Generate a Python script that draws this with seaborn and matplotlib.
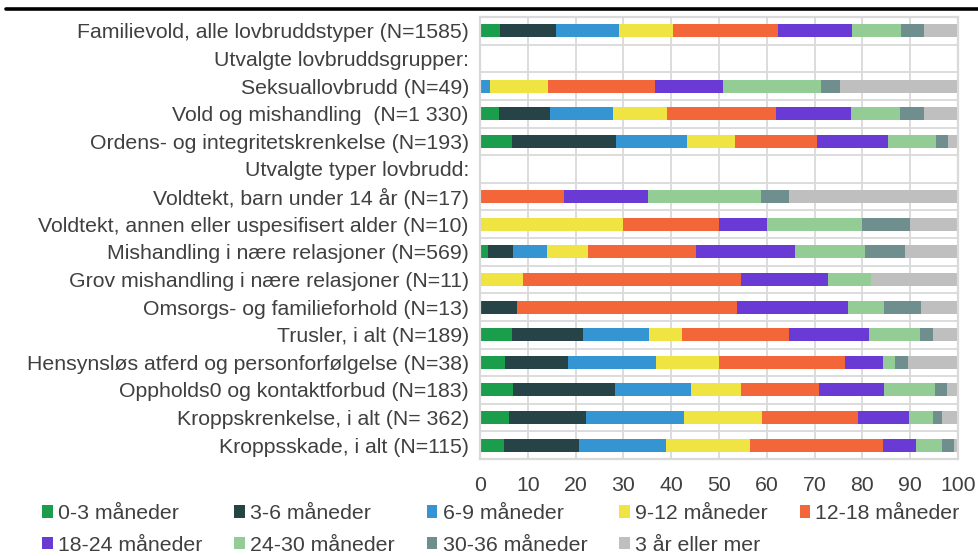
import numpy as np
import pandas as pd
import matplotlib.pyplot as plt
from matplotlib.patches import Patch
from matplotlib.lines import Line2D
import seaborn as sns

# Kategorier (rader, ovenfra og ned)
labels = [
    "Familievold, alle lovbruddstyper (N=1585)",
    "Utvalgte lovbruddsgrupper:",
    "Seksuallovbrudd (N=49)",
    "Vold og mishandling  (N=1 330)",
    "Ordens- og integritetskrenkelse (N=193)",
    "Utvalgte typer lovbrudd:",
    "Voldtekt, barn under 14 år (N=17)",
    "Voldtekt, annen eller uspesifisert alder (N=10)",
    "Mishandling i nære relasjoner (N=569)",
    "Grov mishandling i nære relasjoner (N=11)",
    "Omsorgs- og familieforhold (N=13)",
    "Trusler, i alt (N=189)",
    "Hensynsløs atferd og personforfølgelse (N=38)",
    "Oppholds0 og kontaktforbud (N=183)",
    "Kroppskrenkelse, i alt (N= 362)",
    "Kroppsskade, i alt (N=115)",
]

# Andel saker (prosent) per varighetsintervall, én liste per intervall
m0_3   = [4.1, 0, 0.0, 3.9, 6.6, 0, 0.0, 0.0, 1.6, 0.0, 0.0, 6.7, 5.3, 7.0, 6.1, 5.0]
m3_6   = [11.9, 0, 0.0, 10.8, 21.8, 0, 0.0, 0.0, 5.2, 0.0, 7.7, 14.9, 13.2, 21.3, 16.1, 15.8]
m6_9   = [13.0, 0, 2.0, 13.1, 14.9, 0, 0.0, 0.0, 7.2, 0.0, 0.0, 13.8, 18.4, 15.8, 20.5, 18.2]
m9_12  = [11.3, 0, 12.2, 11.4, 10.0, 0, 0.0, 30.0, 8.5, 9.1, 0.0, 6.8, 13.2, 10.5, 16.3, 17.5]
m12_18 = [22.1, 0, 22.4, 22.8, 17.2, 0, 17.6, 20.0, 22.7, 45.4, 46.1, 22.4, 26.3, 16.4, 20.0, 27.9]
m18_24 = [15.5, 0, 14.3, 15.7, 14.9, 0, 17.6, 10.0, 20.6, 18.2, 23.1, 16.8, 7.9, 13.6, 10.8, 6.9]
m24_30 = [10.2, 0, 20.4, 10.1, 10.0, 0, 23.5, 20.0, 14.8, 9.1, 7.7, 10.7, 2.6, 10.5, 5.0, 5.3]
m30_36 = [4.7, 0, 4.1, 5.0, 2.6, 0, 5.9, 10.0, 8.3, 0.0, 7.7, 2.6, 2.6, 2.7, 1.9, 2.5]
y3plus = [7.2, 0, 24.6, 7.2, 2.0, 0, 35.4, 10.0, 11.1, 18.2, 7.7, 5.3, 10.5, 2.2, 3.3, 0.9]

series_names = ["0-3 måneder", "3-6 måneder", "6-9 måneder", "9-12 måneder",
                "12-18 måneder", "18-24 måneder", "24-30 måneder",
                "30-36 måneder", "3 år eller mer"]
series_values = [m0_3, m3_6, m6_9, m9_12, m12_18, m18_24, m24_30, m30_36, y3plus]
colors = ["#1b9e4b", "#264348", "#3595d3", "#f0e442", "#f26639",
          "#6a3bd4", "#93cc95", "#6f8f8f", "#bfbfbf"]

sns.set_theme(style="white")
plt.rcParams['font.family'] = ['Liberation Sans', 'DejaVu Sans']
text_color = "#404040"
grid_color = "#d9d9d9"
fs = 15.3

df = pd.DataFrame(dict(zip(series_names, series_values)), index=labels)
cum = df.cumsum(axis=1)

fig = plt.figure(figsize=(9.79, 5.56), dpi=100)
ax = fig.add_axes([480 / 979, 1 - 459 / 556, (958 - 480) / 979, (459 - 17) / 556])

# Stablede søyler: tegn kumulative summer bakfra
for name, col in reversed(list(zip(series_names, colors))):
    sns.barplot(x=cum[name].values, y=labels, order=labels, orient="h",
                color=col, saturation=1, width=0.47, linewidth=0, ax=ax)

ax.set_xlim(0, 100)
ax.set_xticks(range(0, 101, 10))
ax.set_yticks(np.arange(-0.5, len(labels)), minor=True)
ax.grid(axis="x", which="major", color=grid_color, linewidth=1.3)
ax.grid(axis="y", which="minor", color=grid_color, linewidth=1.3)
ax.grid(axis="y", which="major", visible=False)
ax.set_axisbelow(True)
ax.set_xlabel("")
ax.set_ylabel("")
ax.tick_params(axis="y", which="both", length=0, pad=8, labelsize=fs, labelcolor=text_color)
ax.tick_params(axis="x", length=0, pad=12, labelsize=fs, labelcolor=text_color)
for s in ax.spines.values():
    s.set_visible(True)
    s.set_color(grid_color)
    s.set_linewidth(1.6)

# Tegnforklaring (radvis rekkefølge)
order = [0, 5, 1, 6, 2, 7, 3, 8, 4]
handles = [Patch(facecolor=colors[i], edgecolor="none") for i in order]
fig.legend(handles, [series_names[i] for i in order], ncol=5, frameon=False,
           loc="upper left", bbox_to_anchor=(42 / 979, 1 - 504 / 556),
           fontsize=fs, labelcolor=text_color, handlelength=0.5, handleheight=0.5,
           handletextpad=0.25, columnspacing=1.5, labelspacing=0.6,
           borderpad=0, borderaxespad=0)

# Linje under (avkuttet) tittel
fig.add_artist(Line2D([6 / 979, 1], [1 - 8.5 / 556] * 2, color="black", lw=2.6,
                      transform=fig.transFigure))

fig.savefig("out.png", dpi=100)
